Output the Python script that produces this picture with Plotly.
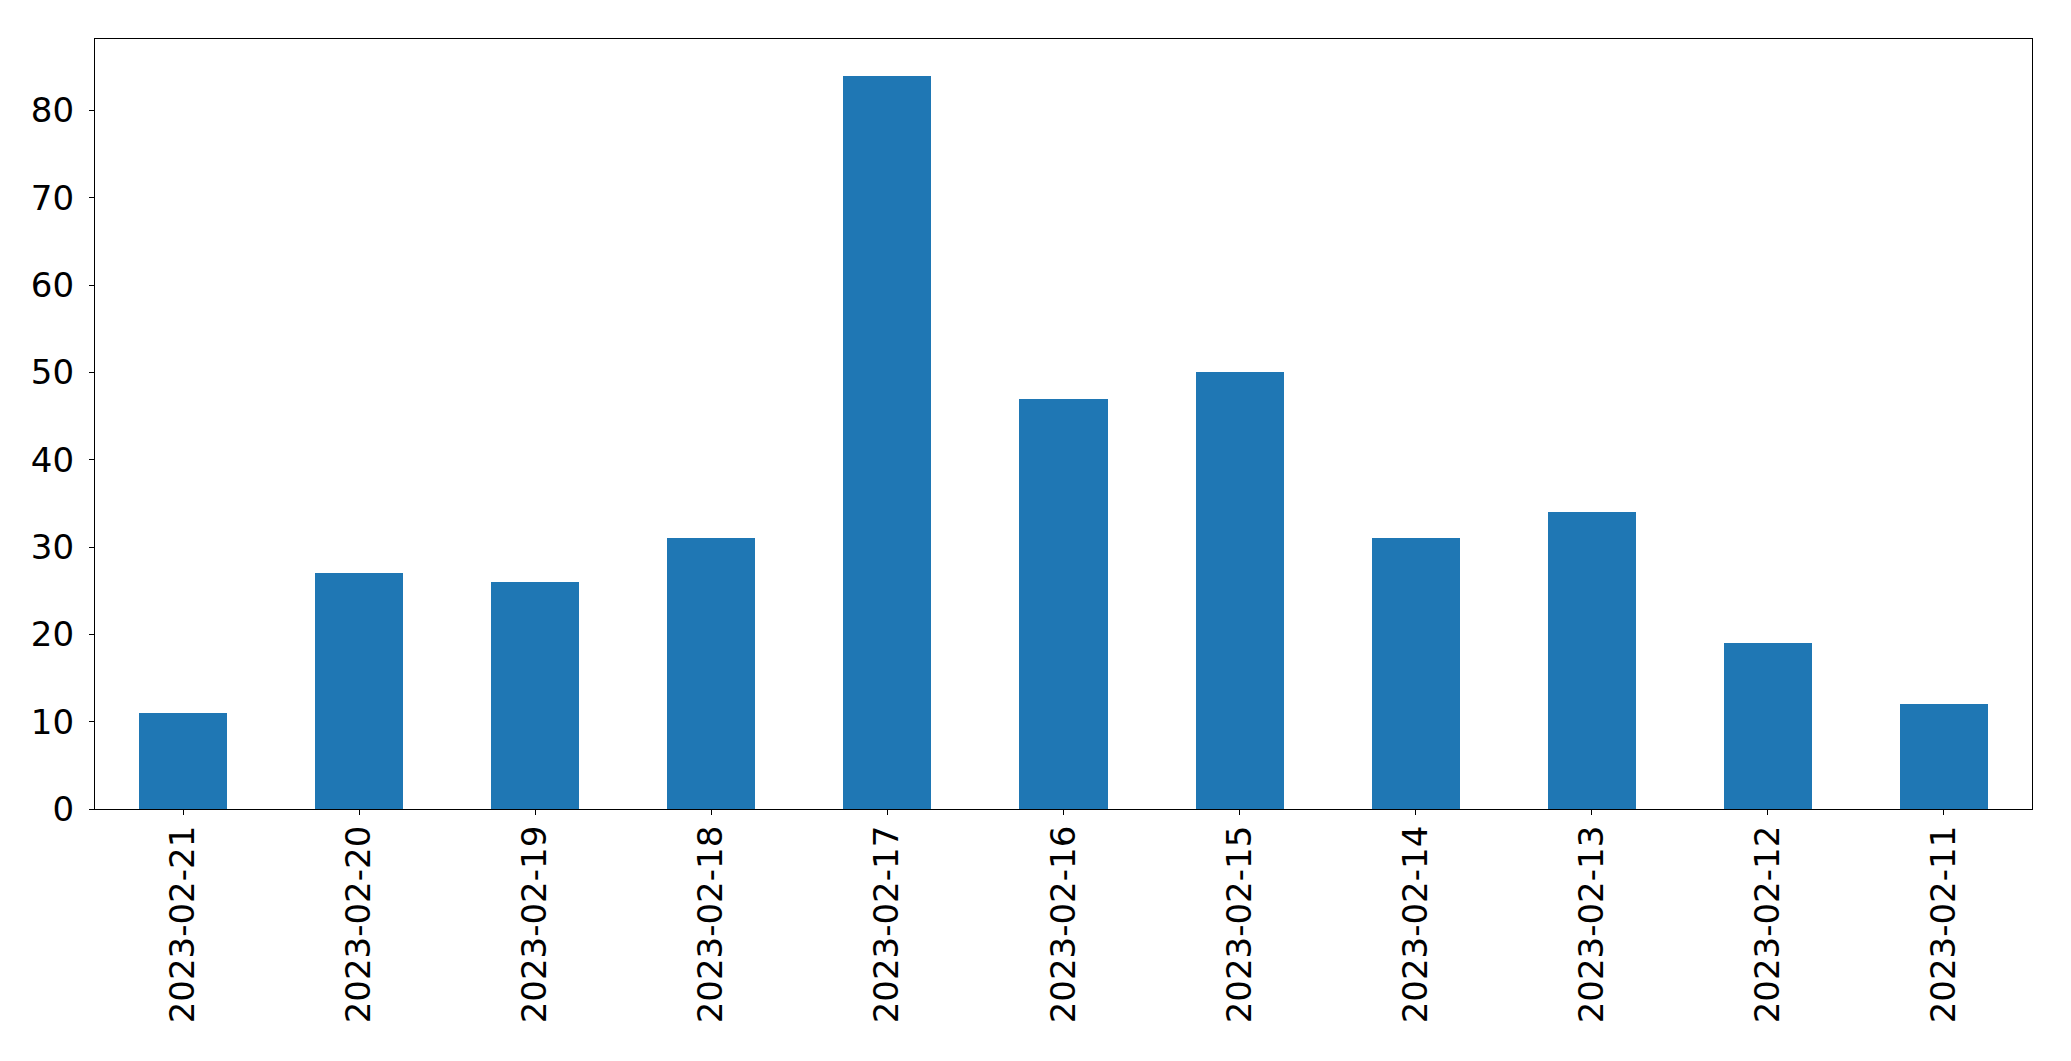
import plotly.graph_objects as go

dates = ["2023-02-21", "2023-02-20", "2023-02-19", "2023-02-18", "2023-02-17",
         "2023-02-16", "2023-02-15", "2023-02-14", "2023-02-13", "2023-02-12", "2023-02-11"]
counts = [11, 27, 26, 31, 84, 47, 50, 31, 34, 19, 12]
y_ticks = [0, 10, 20, 30, 40, 50, 60, 70, 80]

fig = go.Figure(go.Bar(x=dates, y=counts, width=0.5, marker=dict(color="#1f77b4", line=dict(width=0))))

fig.update_layout(
    width=2071, height=1061,
    margin=dict(l=95, r=39, t=39, b=252, pad=0),
    plot_bgcolor="white", paper_bgcolor="white",
    font=dict(family="DejaVu Sans", size=34, color="black"),
    showlegend=False,
    bargap=0,
)
fig.update_xaxes(
    type="category", range=[-0.5, 10.5], tickangle=-90,
    showline=True, linecolor="black", linewidth=1.3, mirror=True,
    ticks="outside", ticklen=5, tickwidth=1.3, tickcolor="black",
    showgrid=False, ticklabelstandoff=-3,
)
fig.update_yaxes(
    range=[0, 88.2], tickvals=y_ticks,
    showline=True, linecolor="black", linewidth=1.3, mirror=True,
    ticks="outside", ticklen=5, tickwidth=1.3, tickcolor="black",
    showgrid=False, zeroline=False, ticklabelstandoff=8,
)

fig.write_html("out.html", config={"displayModeBar": False},
               post_script="document.body.style.margin='0px';")
